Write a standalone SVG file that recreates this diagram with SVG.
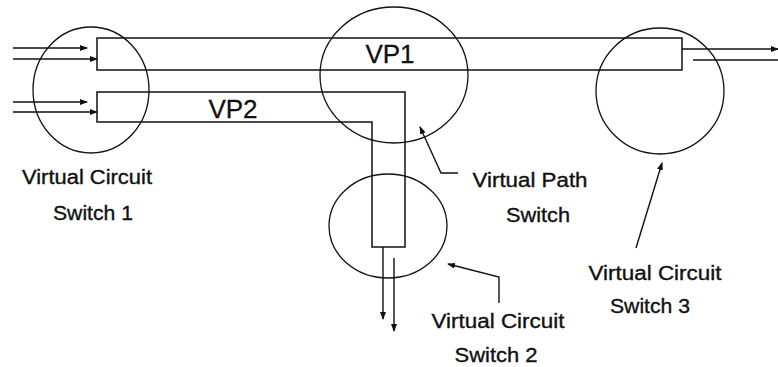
<svg xmlns="http://www.w3.org/2000/svg" width="778" height="367" viewBox="0 0 778 367">
<defs>
<marker id="ah" markerWidth="8" markerHeight="6" refX="7" refY="3" orient="auto" markerUnits="userSpaceOnUse">
<path d="M0,0 L8,3 L0,6 Z" fill="#111"/>
</marker>
</defs>
<style>
.ln{fill:none;stroke:#111;stroke-width:1.5}
.sw{fill:none;stroke:#111;stroke-width:1.3}
.ar{fill:none;stroke:#111;stroke-width:1.4;marker-end:url(#ah)}
.lb{font-family:"Liberation Sans",Arial,sans-serif;font-size:20px;fill:#111;stroke:#111;stroke-width:0.35}
.vp{font-family:"Liberation Sans",Arial,sans-serif;font-size:26px;fill:#111;stroke:#111;stroke-width:0.3}
</style>
<rect width="778" height="367" fill="#fff"/>
<g id="vp1">
<rect class="ln" x="97" y="38" width="585" height="32"/>
<text class="vp" x="390" y="63" text-anchor="middle">VP1</text>
</g>
<g id="vp2">
<path class="ln" d="M97,92 L405,92 L405,247 L372,247 L372,122 L97,122 Z"/>
<text class="vp" x="233" y="118" text-anchor="middle">VP2</text>
</g>
<g id="vcs1">
<ellipse class="sw" cx="91" cy="90" rx="58" ry="63"/>
<text class="lb" x="87" y="184" text-anchor="middle" textLength="130" lengthAdjust="spacingAndGlyphs">Virtual Circuit</text>
<text class="lb" x="93" y="220" text-anchor="middle" textLength="80" lengthAdjust="spacingAndGlyphs">Switch 1</text>
</g>
<g id="vps">
<ellipse class="sw" cx="394" cy="75" rx="74" ry="68"/>
<text class="lb" x="530" y="187" text-anchor="middle" textLength="115" lengthAdjust="spacingAndGlyphs">Virtual Path</text>
<text class="lb" x="538" y="222" text-anchor="middle" textLength="64" lengthAdjust="spacingAndGlyphs">Switch</text>
</g>
<g id="vcs2">
<ellipse class="sw" cx="388" cy="226" rx="59" ry="52"/>
<text class="lb" x="498" y="328" text-anchor="middle" textLength="133" lengthAdjust="spacingAndGlyphs">Virtual Circuit</text>
<text class="lb" x="496" y="362" text-anchor="middle" textLength="83" lengthAdjust="spacingAndGlyphs">Switch 2</text>
</g>
<g id="vcs3">
<ellipse class="sw" cx="660" cy="91" rx="64" ry="63"/>
<text class="lb" x="655" y="280" text-anchor="middle" textLength="133" lengthAdjust="spacingAndGlyphs">Virtual Circuit</text>
<text class="lb" x="650" y="313" text-anchor="middle" textLength="80" lengthAdjust="spacingAndGlyphs">Switch 3</text>
</g>
<g id="connectors">
<line class="ar" x1="13" y1="48" x2="87" y2="48"/>
<line class="ar" x1="13" y1="59" x2="97" y2="59"/>
<line class="ar" x1="13" y1="102" x2="87" y2="102"/>
<line class="ar" x1="13" y1="112" x2="97" y2="112"/>
<line class="ar" x1="682" y1="49" x2="778" y2="49"/>
<line class="ln" x1="693" y1="60" x2="778" y2="60"/>
<line class="ar" x1="383" y1="247" x2="383" y2="319"/>
<line class="ar" x1="394" y1="258" x2="394" y2="331"/>
<polyline class="ar" points="458,173 441,173 420,127"/>
<polyline class="ar" points="499,303 499,277 448,264"/>
<line class="ar" x1="636" y1="248" x2="662" y2="163"/>
</g>
</svg>
